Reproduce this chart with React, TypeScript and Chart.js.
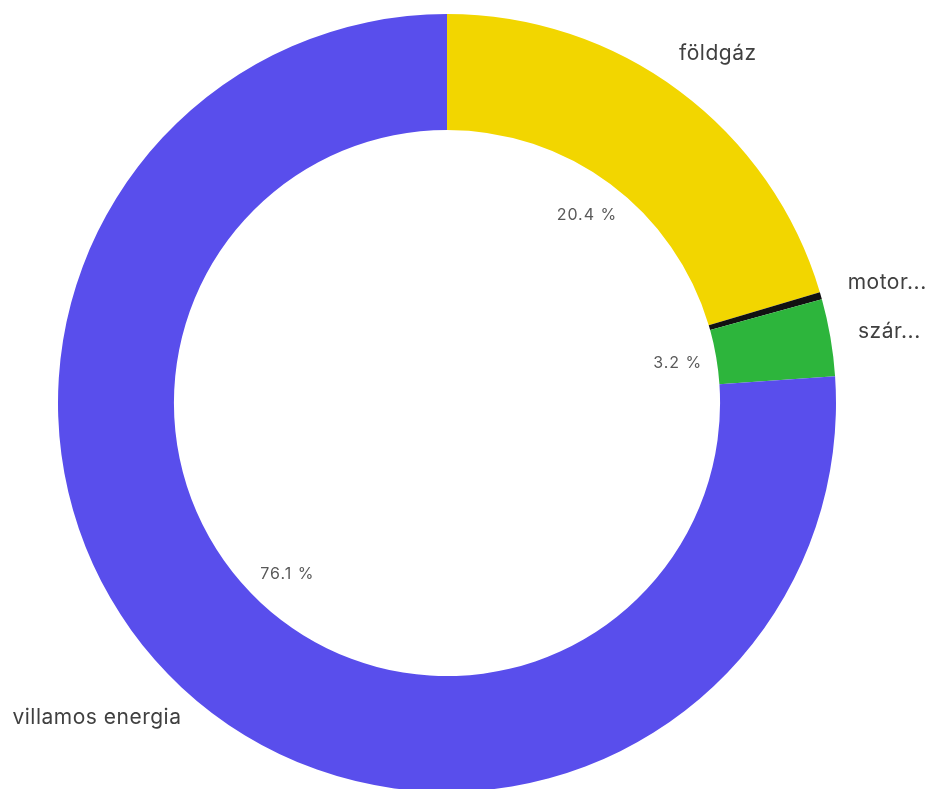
import React, { useEffect, useRef } from "react";
import { Chart, registerables } from "chart.js";

Chart.register(...registerables);

const categories = ["földgáz", "motor...", "szár...", "villamos energia"];
const shares = [20.4, 0.3, 3.2, 76.1];
const percentLabels = ["20.4 %", "", "3.2 %", "76.1 %"];
const colors = ["#F2D600", "#111111", "#2DB53C", "#594EEC"];

// small per-label nudges (layout only) for outside labels
const outsideNudge: [number, number][] = [
  [-19, -13],
  [-3, -4],
  [-3, 0],
  [21, 8],
];

const labelPlugin = {
  id: "ringLabels",
  afterDatasetsDraw(chart: any) {
    const ctx = chart.ctx;
    const meta = chart.getDatasetMeta(0);
    ctx.save();
    meta.data.forEach((arc: any, i: number) => {
      const { x, y, startAngle, endAngle, outerRadius, innerRadius } = arc.getProps(
        ["x", "y", "startAngle", "endAngle", "outerRadius", "innerRadius"],
        true
      );
      const mid = (startAngle + endAngle) / 2;
      const cos = Math.cos(mid);
      const sin = Math.sin(mid);
      const pl = percentLabels[i];
      if (pl) {
        const r = innerRadius - 39;
        ctx.font = "16px Inter";
        (ctx as any).letterSpacing = "1px";
        ctx.fillStyle = "#595959";
        ctx.textAlign = "center";
        ctx.textBaseline = "middle";
        ctx.fillText(pl, x + r * cos, y + r * sin);
      }
      const ro = outerRadius + 31;
      const ax = x + ro * cos + outsideNudge[i][0];
      const ay = y + ro * sin + outsideNudge[i][1];
      ctx.font = "21px Inter";
      (ctx as any).letterSpacing = "0.5px";
      ctx.fillStyle = "#404040";
      ctx.textAlign = cos >= 0 ? "left" : "right";
      ctx.textBaseline = "middle";
      ctx.fillText(categories[i], ax, ay);
    });
    ctx.restore();
  },
};

export default function App() {
  const ref = useRef<HTMLCanvasElement>(null);
  useEffect(() => {
    document.body.style.margin = "0";
    const chart = new Chart(ref.current!, {
      type: "doughnut",
      data: {
        labels: categories,
        datasets: [
          {
            data: shares,
            backgroundColor: colors,
            borderWidth: 0,
          },
        ],
      },
      options: {
        animation: false,
        responsive: false,
        cutout: "70.2%",
        layout: { padding: { top: 14, bottom: 8, left: 58, right: 94 } },
        plugins: {
          legend: { display: false },
          tooltip: { enabled: false },
        },
      },
      plugins: [labelPlugin],
    });
    return () => chart.destroy();
  }, []);
  return (
    <div style={{ width: 930, height: 789, overflow: "hidden", background: "#fff" }}>
      <canvas ref={ref} width={930} height={800} style={{ display: "block" }} />
    </div>
  );
}
